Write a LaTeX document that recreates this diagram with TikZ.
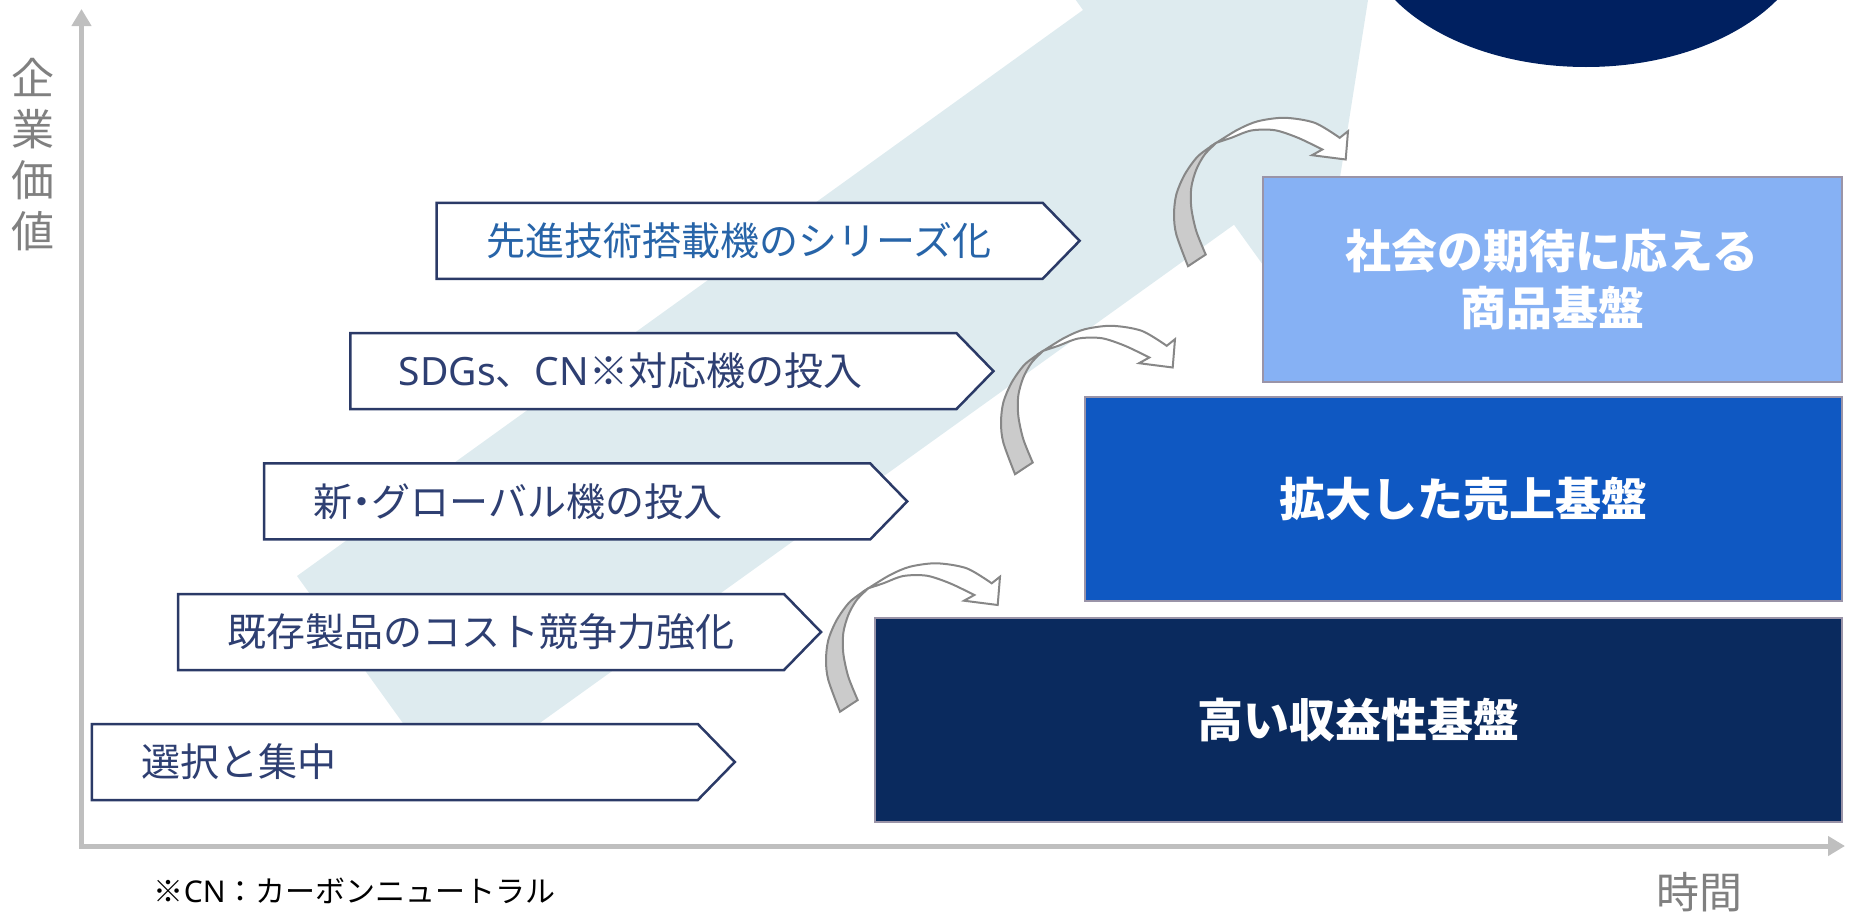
\documentclass[tikz,border=0pt]{standalone}
\usepackage{fontspec}
\newfontfamily\jp{Noto Sans CJK JP}
\newfontfamily\lat{Noto Sans}
\usetikzlibrary{arrows.meta}
\definecolor{lightbg}{HTML}{DEEBEF}
\definecolor{ellfill}{HTML}{002060}
\definecolor{pentline}{HTML}{2B3A67}
\definecolor{penttext}{HTML}{2E3F72}
\definecolor{penttextb}{HTML}{2764A8}
\definecolor{boxa}{HTML}{0A2A5E}
\definecolor{boxb}{HTML}{0F58C2}
\definecolor{boxc}{HTML}{86B1F4}
\definecolor{boxline}{HTML}{9A94A8}
\definecolor{axisgray}{HTML}{BFBFBF}
\definecolor{arrline}{HTML}{878787}
\definecolor{arrgray}{HTML}{CBCBCB}
\definecolor{labgray}{HTML}{808080}
\newcommand\mycurvedarrow{%
  \filldraw[arrowpart, fill=arrgray] plot[smooth] coordinates {(840,711.7) (828.3,680) (826,660) (828.3,640) (836.7,620) (850,601.7) (868.3,588.3)}
    -- plot[smooth] coordinates {(868.3,588.3) (856.7,600) (848.3,615) (843.3,633) (843.3,653.3) (848.3,676.7) (857.7,700)} -- cycle;
  \filldraw[arrowpart, fill=white] plot[smooth] coordinates {(868.3,588.3) (890,575) (910,566.7) (936.7,563.3) (966.7,568.3) (991.7,583.3)}
    -- (1000,576.7) -- (997.7,605) -- (964,600.7)
    -- plot[smooth] coordinates {(974.3,595) (950,583.3) (926.7,575.7) (903.3,576) (883.3,583.3) (868.3,588.3)} -- cycle;
}
\begin{document}
\begin{tikzpicture}[x=0.5pt,y=-0.5pt,
  pent/.style={draw=pentline, line width=1.25pt, fill=white, line join=miter},
  ptext/.style={anchor=west, inner sep=0pt, font=\jp\fontsize{19.5}{23}\selectfont, text=penttext},
  box/.style={draw=boxline, line width=1pt, text=white, inner sep=0pt, align=center,
    font=\jp\bfseries\fontsize{23}{28.5}\selectfont},
  axis/.style={draw=axisgray, line width=2.5pt},
  arrowpart/.style={draw=arrline, line width=1pt, line join=miter},
]
\useasboundingbox (0,0) rectangle (1864,916);
\begin{scope}
  \clip (0,0) rectangle (1864,916);
  \fill[lightbg] (297,576) -- (449.5,787.8) -- (1234,224.7) -- (1314.8,336.9) -- (1374,-37.8) -- (1002,-102) -- (1083,10) -- cycle;
  \fill[ellfill] (1586,-77) ellipse [x radius=226, y radius=144];
\end{scope}

% pentagons
\draw[pent] (91.8,724) -- (697.8,724) -- (734.8,762) -- (697.8,800) -- (91.8,800) -- cycle;
\node[ptext] (p1) at (140.8,762) {選択と集中};
\draw[pent] (178,594) -- (784,594) -- (821,632) -- (784,670) -- (178,670) -- cycle;
\node[ptext] (p2) at (227,632) {既存製品のコスト競争力強化};
\draw[pent] (264.2,463.4) -- (870.2,463.4) -- (907.2,501.4) -- (870.2,539.4) -- (264.2,539.4) -- cycle;
\node[ptext] (p3) at (313,501.4) {新{\addfontfeature{RawFeature=+palt}・}グローバル機の投入};
\draw[pent] (350.4,333.1) -- (956.4,333.1) -- (993.4,371.1) -- (956.4,409.1) -- (350.4,409.1) -- cycle;
\node[ptext] (p4) at (398.5,371.1) {{\lat SDGs}、{\lat CN}※対応機の投入};
\draw[pent] (436.6,202.8) -- (1042.6,202.8) -- (1079.6,240.8) -- (1042.6,278.8) -- (436.6,278.8) -- cycle;
\node[ptext, text=penttextb] (p5) at (486.5,240.8) {先進技術搭載機のシリーズ化};

% boxes
\node[box, fill=boxa, minimum width=483.5pt, minimum height=102pt] (b1) at (1358.1,719.7) {高い収益性基盤};
\node[box, fill=boxb, minimum width=378.4pt, minimum height=102.15pt] (b2) at (1463.4,498.85) {拡大した売上基盤};
\node[box, fill=boxc, minimum width=289.55pt, minimum height=102.5pt] (b3) at (1552.25,279.2) {社会の期待に応える\\商品基盤};

% curved arrows
\mycurvedarrow
\begin{scope}[shift={(175,-237.5)}]
  \mycurvedarrow
\end{scope}
\begin{scope}[shift={(348,-445.5)}]
  \mycurvedarrow
\end{scope}

% axes
\coordinate (ybot) at (81.5,848.5);
\coordinate (ytop) at (81.5,9);
\coordinate (xbeg) at (79,846);
\coordinate (xend) at (1845,846);
\draw[axis, -{Triangle[length=8.5pt,width=9.5pt]}] (ybot) -- (ytop);
\draw[axis, -{Triangle[length=8.5pt,width=9.5pt]}] (xbeg) -- (xend);

% labels
\node[inner sep=0pt, align=center, text=labgray, font=\jp\fontsize{21.5}{25.5}\selectfont] (ylab) at (32.5,155) {企\\業\\価\\値};
\node[inner sep=0pt, text=labgray, font=\jp\fontsize{21.5}{25.5}\selectfont] (xlab) at (1699,892) {時間};
\node[inner sep=0pt, anchor=west, text=black, font=\jp\fontsize{15}{18}\selectfont] (note) at (153.5,891) {※{\lat CN}：カーボンニュートラル};
\end{tikzpicture}
\end{document}
